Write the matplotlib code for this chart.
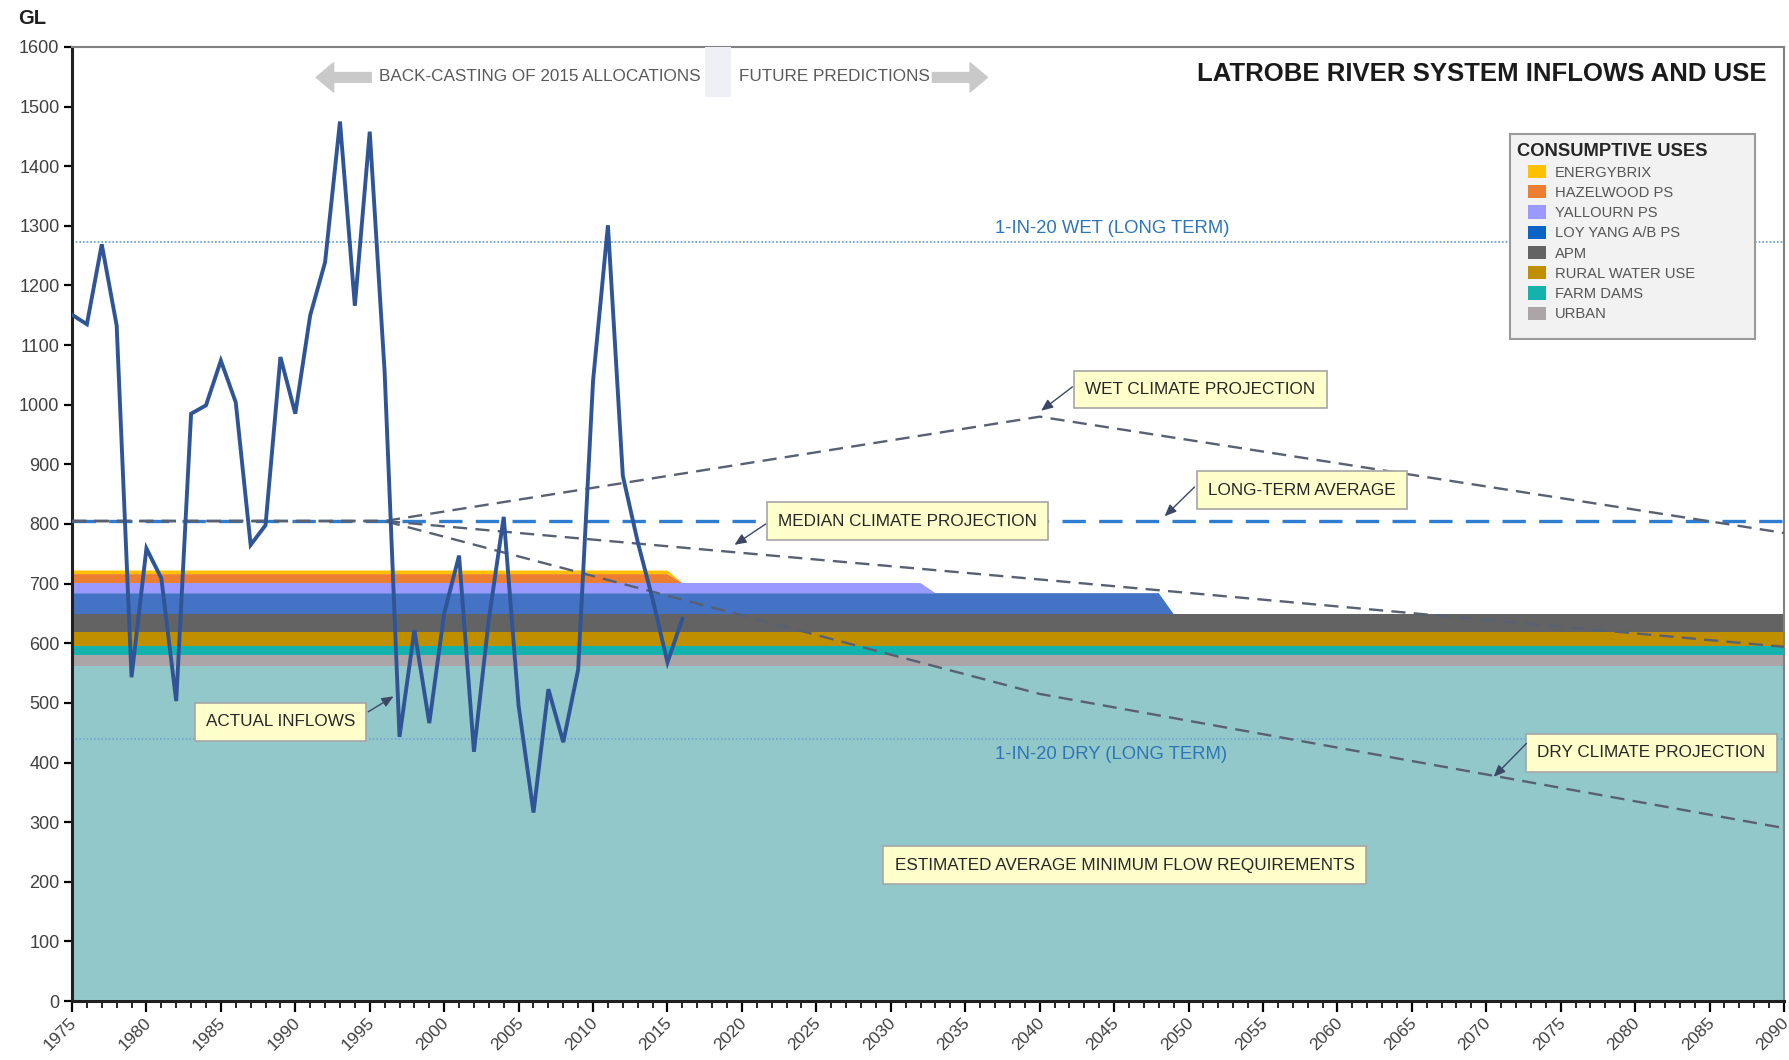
import numpy as np
import matplotlib
matplotlib.use("Agg")
import matplotlib.pyplot as plt
import matplotlib.transforms as mtrans
from matplotlib import font_manager as fm
from matplotlib.patches import Patch, Rectangle
from matplotlib.ticker import MultipleLocator

# ---------------- data ----------------
inflow_years = list(range(1975, 2017))
inflow_values = [1151, 1135, 1269, 1133, 543, 759, 709, 503, 985, 999,
                 1074, 1004, 765, 798, 1080, 985, 1150, 1239, 1475, 1166,
                 1458, 1055, 443, 622, 466, 650, 747, 418, 640, 812,
                 495, 316, 523, 434, 556, 1040, 1301, 881, 770, 674,
                 568, 641]

stack_years = [1975, 2015, 2016, 2032, 2033, 2048, 2049, 2090]
min_flow   = [562, 562, 562, 562, 562, 562, 562, 562]
urban      = [19, 19, 19, 19, 19, 19, 19, 19]
farm_dams  = [15, 15, 15, 15, 15, 15, 15, 15]
rural      = [23, 23, 23, 23, 23, 23, 23, 23]
apm        = [30, 30, 30, 30, 30, 30, 30, 30]
loy_yang   = [35, 35, 35, 35, 35, 35, 0, 0]
yallourn   = [17, 17, 17, 17, 0, 0, 0, 0]
hazelwood  = [15, 15, 0, 0, 0, 0, 0, 0]
energybrix = [6, 6, 0, 0, 0, 0, 0, 0]

use_labels = ["ENERGYBRIX", "HAZELWOOD PS", "YALLOURN PS", "LOY YANG A/B PS",
              "APM", "RURAL WATER USE", "FARM DAMS", "URBAN"]

long_term_avg = 805
wet_1in20 = 1273
dry_1in20 = 440

proj_years = [1975, 1996, 2040, 2090]
wet_proj    = [805, 805, 980, 785]
median_proj = [805, 805, 707, 594]
dry_proj    = [805, 805, 515, 290]

# ---------------- style ----------------
names = {f.name for f in fm.fontManager.ttflist}
NARROW = "Liberation Sans Narrow" if "Liberation Sans Narrow" in names else "Liberation Sans"
plt.rcParams["font.family"] = [NARROW, "DejaVu Sans"]

C_MIN = "#93C8CB"
C_URBAN = "#ABA5A7"
C_FARM = "#14B2AC"
C_RURAL = "#BF8F00"
C_APM = "#636363"
C_LOY = "#4472C4"
C_YALL = "#9999FF"
C_HAZ = "#ED7D31"
C_ENER = "#FFC000"
LEG_LOY = "#0A64C8"

fig = plt.figure(figsize=(17.9, 10.6), dpi=100)
ax = fig.add_axes([72 / 1790, 59 / 1060, 1712 / 1790, 954 / 1060])

ax.stackplot(stack_years, min_flow, urban, farm_dams, rural, apm, loy_yang,
             yallourn, hazelwood, energybrix,
             colors=[C_MIN, C_URBAN, C_FARM, C_RURAL, C_APM, C_LOY, C_YALL, C_HAZ, C_ENER],
             linewidth=0, zorder=1)

# reference lines
ax.axhline(wet_1in20, color="#5B9BD5", lw=1.2, ls=(0, (1, 1.2)), zorder=2)
ax.axhline(dry_1in20, color="#6FA4D8", lw=1.2, ls=(0, (1, 1.2)), zorder=2)
ax.axhline(long_term_avg, color="#2E7DD1", lw=2.4, ls=(0, (7, 4)), zorder=4)

for proj in (wet_proj, median_proj, dry_proj):
    ax.plot(proj_years, proj, color="#596072", lw=1.7, ls=(0, (6, 3.5)), zorder=5)

ax.plot(inflow_years, inflow_values, color="#2F5597", lw=2.8, zorder=6,
        solid_joinstyle="miter")

# axes styling
ax.set_xlim(1975, 2090)
ax.set_ylim(0, 1600)
ax.xaxis.set_major_locator(MultipleLocator(5))
ax.xaxis.set_minor_locator(MultipleLocator(1))
ax.yaxis.set_major_locator(MultipleLocator(100))
ax.tick_params(axis="x", which="major", length=8, width=1.6, direction="out",
               labelsize=12.5, labelcolor="#404040", pad=2)
ax.tick_params(axis="x", which="minor", length=5, width=1.2, direction="out")
ax.tick_params(axis="y", which="major", length=6, width=1.6, direction="out",
               labelsize=13, labelcolor="#404040", pad=3)
shift = mtrans.ScaledTranslation(-3 / 100, 0, fig.dpi_scale_trans)
for lab in ax.get_xticklabels():
    lab.set_rotation(45)
    lab.set_ha("right")
    lab.set_va("top")
    lab.set_rotation_mode("anchor")
    lab.set_transform(lab.get_transform() + shift)
for s in ("left", "bottom"):
    ax.spines[s].set_linewidth(2.2)
    ax.spines[s].set_color("#202020")
for s in ("top", "right"):
    ax.spines[s].set_linewidth(1.5)
    ax.spines[s].set_color("#808080")

fig.text(32 / 1790, 1 - 19 / 1060, "GL", fontsize=14.5, fontweight="bold",
         color="#202020", ha="center", va="center")

# title
ax.text(2088.8, 1555, "LATROBE RIVER SYSTEM INFLOWS AND USE", fontsize=18.5,
        fontweight="bold", color="#1a1a1a", ha="right", va="center", zorder=8)

# top arrows
ax.add_patch(Rectangle((2017.5, 1516), 1.8, 84, facecolor="#EEF0F6",
                       edgecolor="none", zorder=3))
ax.text(1995.6, 1551, "BACK-CASTING OF 2015 ALLOCATIONS", fontsize=12.3,
        color="#595959", ha="left", va="center", zorder=8)
ax.text(2019.8, 1551, "FUTURE PREDICTIONS", fontsize=12.3,
        color="#595959", ha="left", va="center", zorder=8)
arrow_style = "simple,head_length=0.9,head_width=1.5,tail_width=0.5"
ax.annotate("", xy=(1991.4, 1549), xytext=(1995.1, 1549),
            arrowprops=dict(arrowstyle=arrow_style, color="#C9C9C9",
                            mutation_scale=14, shrinkA=0, shrinkB=0), zorder=8)
ax.annotate("", xy=(2036.5, 1549), xytext=(2032.8, 1549),
            arrowprops=dict(arrowstyle=arrow_style, color="#C9C9C9",
                            mutation_scale=14, shrinkA=0, shrinkB=0), zorder=8)

# reference line labels
ax.text(2044.9, 1296, "1-IN-20 WET (LONG TERM)", fontsize=13.3, color="#2E75B6",
        ha="center", va="center", zorder=8)
ax.text(2044.8, 413, "1-IN-20 DRY (LONG TERM)", fontsize=13.3, color="#2E75B6",
        ha="center", va="center", zorder=8)

box = dict(boxstyle="square,pad=0.65", facecolor="#FFFFCC", edgecolor="#A6A6A6", lw=1.2)
arrow_kw = dict(arrowstyle="-|>,head_length=0.7,head_width=0.3", color="#3C4766",
                lw=1.0, shrinkA=0, shrinkB=0)


def callout(text, center, start=None, tip=None):
    ax.text(center[0], center[1], text, fontsize=12.3, color="#262626",
            ha="center", va="center", bbox=box, zorder=9)
    if tip is not None:
        ax.annotate("", xy=tip, xytext=start, arrowprops=arrow_kw, zorder=9)


callout("WET CLIMATE PROJECTION", (2050.8, 1026), (2042.2, 1030), (2040.1, 990))
callout("LONG-TERM AVERAGE", (2057.6, 857), (2050.4, 862), (2048.4, 813))
callout("MEDIAN CLIMATE PROJECTION", (2031.1, 805), (2021.6, 800), (2019.5, 765))
callout("ACTUAL INFLOWS", (1989.0, 468), (1994.9, 485), (1996.6, 511))
callout("DRY CLIMATE PROJECTION", (2081.1, 416), (2072.7, 432), (2070.5, 376))
callout("ESTIMATED AVERAGE MINIMUM FLOW REQUIREMENTS", (2045.7, 228))

# legend
legend_bg = Rectangle((1510 / 1790, 1 - 339 / 1060), 245 / 1790, 205 / 1060,
                      transform=fig.transFigure, facecolor="#F2F2F2",
                      edgecolor="#9A9A9A", lw=1.5, zorder=10, clip_on=False)
ax.add_patch(legend_bg)
ax.text(1517 / 1790, 1 - 151 / 1060, "CONSUMPTIVE USES", transform=fig.transFigure,
        fontsize=13.2, fontweight="bold", color="#262626", ha="left", va="center",
        zorder=11, clip_on=False)
leg_colors = [C_ENER, C_HAZ, C_YALL, LEG_LOY, C_APM, C_RURAL, C_FARM, C_URBAN]
handles = [Patch(facecolor=c, edgecolor="none") for c in leg_colors]
leg = ax.legend(handles, use_labels, loc="upper left",
                bbox_to_anchor=(1528 / 1790, 1 - 165 / 1060),
                bbox_transform=fig.transFigure, borderaxespad=0, borderpad=0,
                fontsize=10.6, handlelength=1.2, handleheight=1.0,
                handletextpad=0.65, labelspacing=0.38, frameon=False)
for t in leg.get_texts():
    t.set_color("#555555")
leg.set_zorder(12)

fig.savefig("out.png", dpi=100)
